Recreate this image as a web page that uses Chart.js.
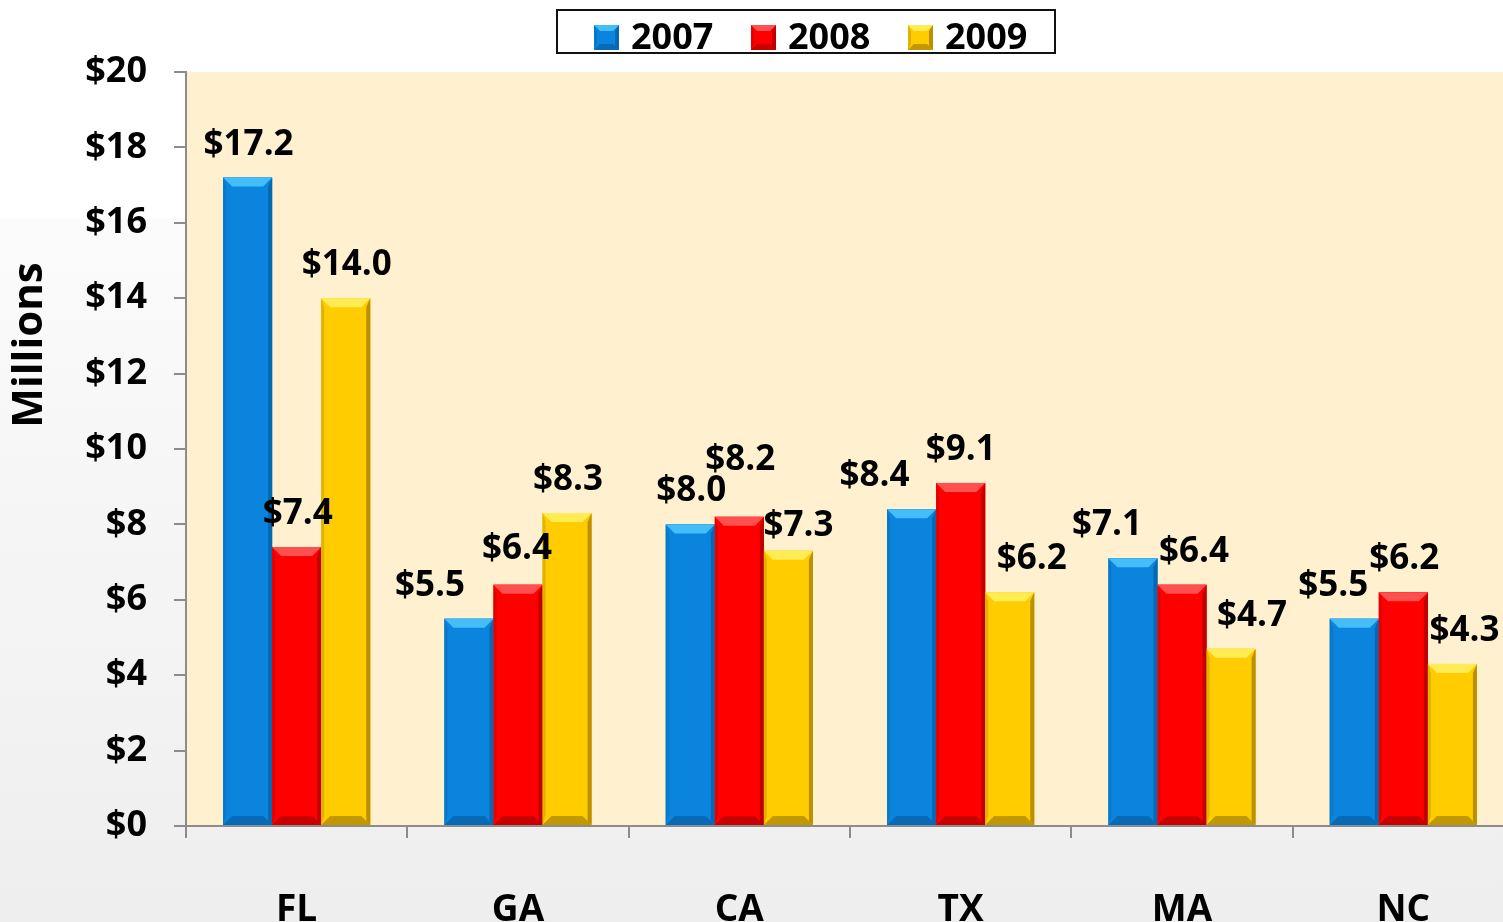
<!DOCTYPE html>
<html>
<head>
<meta charset="utf-8">
<script src="https://cdn.jsdelivr.net/npm/chart.js@4.4.1/dist/chart.umd.min.js"></script>
<style>
  html, body { margin: 0; padding: 0; overflow: hidden; width: 1503px; height: 922px; }
  body { background: linear-gradient(to bottom, #ffffff 0px, #ffffff 218px, #fbfbfb 219px, #eeeeee 922px); }
  #wrap { position: absolute; left: 0; top: 0; width: 1514px; height: 922px; }
</style>
</head>
<body>
<div id="wrap"><canvas id="c" width="1514" height="922" style="width:1514px;height:922px"></canvas></div>
<script>
// ---- data ----
const categories = ['FL', 'GA', 'CA', 'TX', 'MA', 'NC'];
const seriesNames = ['2007', '2008', '2009'];
const values2007 = [17.2, 5.5, 8.0, 8.4, 7.1, 5.5];
const values2008 = [7.4, 6.4, 8.2, 9.1, 6.4, 6.2];
const values2009 = [14.0, 8.3, 7.3, 6.2, 4.7, 4.3];
const yTicks = [0, 2, 4, 6, 8, 10, 12, 14, 16, 18, 20];

// ---- styling ----
const palette = [
  { main: '#0A84DC', light: '#45BDF8', dark: '#0660A6' },
  { main: '#FF0000', light: '#FF5050', dark: '#B00000' },
  { main: '#FFCC00', light: '#FFEC55', dark: '#A88200' }
];
// label nudges (pixels) to avoid overlaps, like the original
const labelShiftX = [
  [1, -39, 1, -37, -26, -21],
  [1, -1, 1, 0, 12, 1],
  [1, 1, 10, 22, 21, 12]
];
const labelShiftY = [
  [0, 0, 0, 0, 0, 0],
  [0, -3, -24, 0, 0, 0],
  [0, 0, 8, 0, 0, 0]
];
const FONT = '"Open Sans", sans-serif';

function bevelRect(ctx, left, top, right, bottom, col, b) {
  ctx.save();
  ctx.fillStyle = col.main;
  ctx.fillRect(left, top, right - left, bottom - top);
  // top bevel
  ctx.fillStyle = col.light;
  ctx.beginPath();
  ctx.moveTo(left, top); ctx.lineTo(right, top);
  ctx.lineTo(right - b, top + b); ctx.lineTo(left + b, top + b);
  ctx.closePath(); ctx.fill();
  // right edge
  ctx.fillStyle = col.dark;
  ctx.globalAlpha = 0.8;
  ctx.beginPath();
  ctx.moveTo(right, top); ctx.lineTo(right, bottom);
  ctx.lineTo(right - 4, bottom - 4); ctx.lineTo(right - 4, top + b);
  ctx.closePath(); ctx.fill();
  // bottom bevel
  ctx.globalAlpha = 0.7;
  ctx.beginPath();
  ctx.moveTo(left, bottom); ctx.lineTo(right, bottom);
  ctx.lineTo(right - b, bottom - b); ctx.lineTo(left + b, bottom - b);
  ctx.closePath(); ctx.fill();
  // left edge subtle
  ctx.globalAlpha = 0.35;
  ctx.beginPath();
  ctx.moveTo(left, top); ctx.lineTo(left + 3, top + b);
  ctx.lineTo(left + 3, bottom - b); ctx.lineTo(left, bottom);
  ctx.closePath(); ctx.fill();
  ctx.restore();
}

const plotBg = {
  id: 'plotBg',
  beforeDraw(chart) {
    const { ctx, chartArea: a } = chart;
    ctx.save();
    ctx.fillStyle = '#FFF1CF';
    ctx.fillRect(a.left, a.top, a.right - a.left, a.bottom - a.top);
    ctx.restore();
  }
};

const bevelBars = {
  id: 'bevelBars',
  afterDatasetsDraw(chart) {
    const ctx = chart.ctx;
    chart.data.datasets.forEach((ds, di) => {
      chart.getDatasetMeta(di).data.forEach((bar) => {
        const p = bar.getProps(['x', 'y', 'base', 'width'], true);
        bevelRect(ctx, p.x - p.width / 2, p.y, p.x + p.width / 2, p.base, palette[di], 9);
      });
    });
  }
};

const valueLabels = {
  id: 'valueLabels',
  afterDatasetsDraw(chart) {
    const ctx = chart.ctx;
    ctx.save();
    ctx.font = 'bold 35px ' + FONT;
    ctx.fillStyle = '#000';
    ctx.textAlign = 'center';
    ctx.textBaseline = 'alphabetic';
    chart.data.datasets.forEach((ds, di) => {
      chart.getDatasetMeta(di).data.forEach((bar, i) => {
        const txt = '$' + ds.data[i].toFixed(1);
        ctx.fillText(txt, bar.x + labelShiftX[di][i], bar.y - 23 + labelShiftY[di][i]);
      });
    });
    ctx.restore();
  }
};

const boxLegend = {
  id: 'boxLegend',
  afterDraw(chart) {
    const ctx = chart.ctx;
    ctx.save();
    const boxL = 557, boxT = 10, boxW = 498, boxH = 43;
    ctx.fillStyle = '#ffffff';
    ctx.fillRect(boxL, boxT, boxW, boxH);
    ctx.strokeStyle = '#111';
    ctx.lineWidth = 2;
    ctx.strokeRect(boxL, boxT, boxW, boxH);
    ctx.font = 'bold 36px ' + FONT;
    ctx.textBaseline = 'alphabetic';
    let x = 594;
    chart.data.datasets.forEach((ds, di) => {
      bevelRect(ctx, x, 25, x + 25, 50, palette[di], 6);
      ctx.fillStyle = '#000';
      ctx.fillText(ds.label, x + 37, 49);
      x += 157;
    });
    ctx.restore();
  }
};

const yTitle = {
  id: 'yTitle',
  afterDraw(chart) {
    const ctx = chart.ctx;
    ctx.save();
    ctx.translate(30, 345);
    ctx.rotate(-Math.PI / 2);
    ctx.font = 'bold 42px ' + FONT;
    ctx.fillStyle = '#000';
    ctx.textAlign = 'center';
    ctx.textBaseline = 'middle';
    ctx.fillText('Millions', 0, 0);
    ctx.restore();
  }
};

const allSeries = [values2007, values2008, values2009];

new Chart(document.getElementById('c'), {
  type: 'bar',
  data: {
    labels: categories,
    datasets: seriesNames.map((name, i) => ({
      label: name,
      data: allSeries[i],
      backgroundColor: palette[i].main,
      borderWidth: 0,
      categoryPercentage: 0.665,
      barPercentage: 1.0
    }))
  },
  options: {
    responsive: false,
    animation: false,
    layout: { padding: { top: 72, right: 0, bottom: 0, left: 0 } },
    plugins: { legend: { display: false }, tooltip: { enabled: false } },
    scales: {
      x: {
        afterFit(scale) { scale.height = 96; },
        grid: { display: true, drawOnChartArea: false, drawTicks: true, tickLength: 12, color: '#8c8c8c', lineWidth: 2, offset: true },
        border: { display: true, color: '#8c8c8c', width: 2 },
        ticks: { color: '#000', padding: 50, font: { family: FONT, size: 37, weight: 'bold' } }
      },
      y: {
        min: 0, max: 20,
        afterFit(scale) { scale.width = 186; },
        afterBuildTicks(scale) { scale.ticks = yTicks.map(v => ({ value: v })); },
        grid: { display: true, drawOnChartArea: false, drawTicks: true, tickLength: 12, color: '#8c8c8c', lineWidth: 2 },
        border: { display: true, color: '#8c8c8c', width: 2 },
        ticks: {
          color: '#000', padding: 27,
          font: { family: FONT, size: 36, weight: 'bold' },
          callback: (v) => '$' + v
        }
      }
    }
  },
  plugins: [plotBg, bevelBars, valueLabels, boxLegend, yTitle]
});
</script>
</body>
</html>
